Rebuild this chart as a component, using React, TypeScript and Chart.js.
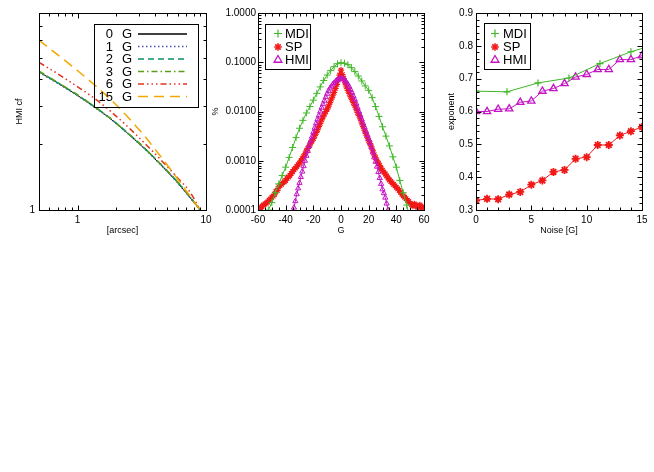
import React, { useEffect, useRef } from "react";
import { Chart, registerables } from "chart.js";

Chart.register(...registerables);

const PAGE_W = 654;
const PAGE_H = 472;
const FONT = "'Liberation Sans', Arial, Helvetica, sans-serif";

// ---------------- Panel 1 : HMI cf vs arcsec ----------------
const cfArcsec = [0.5, 0.7, 1, 1.35, 1.8, 2.4, 3.2, 4.4, 5.9, 7.5, 9];
const cf0G = [4.3, 3.82, 3.35, 2.97, 2.62, 2.27, 1.95, 1.62, 1.35, 1.14, 1.0];
const cf1G = [4.28, 3.81, 3.34, 2.96, 2.62, 2.27, 1.95, 1.62, 1.35, 1.14, 1.0];
const cf2G = [4.31, 3.83, 3.36, 2.98, 2.63, 2.28, 1.96, 1.63, 1.36, 1.15, 1.0];
const cf3G = [4.33, 3.84, 3.37, 2.98, 2.63, 2.28, 1.96, 1.63, 1.36, 1.15, 1.0];
const cf6G = [4.75, 4.21, 3.67, 3.25, 2.84, 2.44, 2.07, 1.71, 1.42, 1.21, 1.0];
const cf15G = [6.0, 5.14, 4.35, 3.75, 3.22, 2.71, 2.24, 1.77, 1.41, 1.16, 1.0];
const cfNoiseLabels = ["0", "1", "2", "3", "6", "15"];
const cfXTicks = [1, 10];
const cfXTickLabels = ["1", "10"];
const cfYTicks = [1];
const cfYTickLabels = ["1"];

// ---------------- Panel 2 : distributions (%) vs G ----------------
const mdiG = [-55, -52.5, -50, -47.5, -45, -42.5, -40, -37.5, -35, -32.5, -30, -27.5, -25, -22.5, -20, -17.5, -15, -12.5, -10, -7.5, -5, -2.5, 0, 2.5, 5, 7.5, 10, 12.5, 15, 17.5, 20, 22.5, 25, 27.5, 30, 32.5, 35, 37.5, 40, 42.5, 45, 47.5, 50];
const mdiPct = [7.08e-5, 1.0e-4, 1.41e-4, 2.24e-4, 3.39e-4, 5.01e-4, 7.41e-4, 1.17e-3, 1.86e-3, 2.95e-3, 4.57e-3, 6.61e-3, 9.33e-3, 0.0126, 0.017, 0.0234, 0.0316, 0.0427, 0.055, 0.0676, 0.0813, 0.0933, 0.0977, 0.0955, 0.0891, 0.0776, 0.0646, 0.0525, 0.0417, 0.0331, 0.0269, 0.0191, 0.0126, 7.94e-3, 4.9e-3, 3.16e-3, 2.0e-3, 1.2e-3, 7.41e-4, 3.98e-4, 2.24e-4, 1.26e-4, 6.31e-5];
const spG = [
  -60, -59, -58, -57, -56, -55, -54, -53, -52, -51, -50, -49, -48, -47, -46, -45, -44, -43, -42, -41,
  -40, -39, -38, -37, -36, -35, -34, -33, -32, -31, -30, -29, -28, -27, -26, -25, -24, -23, -22, -21,
  -20, -19, -18, -17, -16, -15, -14, -13, -12, -11, -10, -9, -8, -7, -6, -5, -4, -3, -2, -1,
  0, 1, 2, 3, 4, 5, 6, 7, 8, 9, 10, 11, 12, 13, 14, 15, 16, 17, 18, 19,
  20, 21, 22, 23, 24, 25, 26, 27, 28, 29, 30, 31, 32, 33, 34, 35, 36, 37, 38, 39,
  40, 41, 42, 43, 44, 45, 46, 47, 48, 49, 50, 51, 52, 53, 54, 55, 56, 57, 58, 59, 60,
];
const spPct = [
  1.12e-4, 1.02e-4, 1.07e-4, 1.2e-4, 1.26e-4, 1.32e-4, 1.38e-4, 1.45e-4, 1.58e-4, 1.66e-4,
  1.82e-4, 1.91e-4, 2.09e-4, 2.4e-4, 2.51e-4, 2.95e-4, 3.16e-4, 3.31e-4, 3.55e-4, 3.72e-4,
  3.98e-4, 4.37e-4, 4.68e-4, 5.01e-4, 5.5e-4, 6.03e-4, 6.61e-4, 7.08e-4, 7.59e-4, 8.32e-4,
  8.91e-4, 1.0e-3, 1.1e-3, 1.23e-3, 1.38e-3, 1.58e-3, 1.78e-3, 2.0e-3, 2.29e-3, 2.51e-3,
  2.82e-3, 3.24e-3, 3.72e-3, 4.27e-3, 5.01e-3, 5.75e-3, 6.76e-3, 7.76e-3, 8.91e-3, 0.01,
  0.0112, 0.0129, 0.0151, 0.0178, 0.0209, 0.0245, 0.0295, 0.0355, 0.0437, 0.055,
  0.0692, 0.0562, 0.0468, 0.038, 0.0316, 0.0269, 0.0234, 0.02, 0.0174, 0.0151,
  0.0132, 0.0112, 9.55e-3, 8.32e-3, 7.08e-3, 5.89e-3, 5.01e-3, 4.17e-3, 3.55e-3, 3.02e-3,
  2.57e-3, 2.24e-3, 1.91e-3, 1.58e-3, 1.32e-3, 1.15e-3, 1.0e-3, 8.91e-4, 7.94e-4, 7.08e-4,
  6.31e-4, 5.89e-4, 5.37e-4, 4.9e-4, 4.47e-4, 4.07e-4, 3.8e-4, 3.55e-4, 3.31e-4, 3.09e-4,
  2.88e-4, 2.69e-4, 2.51e-4, 2.29e-4, 2.09e-4, 1.95e-4, 1.82e-4, 1.7e-4, 1.58e-4, 1.48e-4,
  1.38e-4, 1.29e-4, 1.2e-4, 1.32e-4, 1.26e-4, 1.15e-4, 1.17e-4, 1.26e-4, 1.07e-4, 1.15e-4, 1.12e-4,
];
const hmiG = [
  -36, -35, -34, -33, -32, -31, -30, -29, -28, -27, -26, -25, -24, -23, -22, -21, -20, -19, -18, -17,
  -16, -15, -14, -13, -12, -11, -10, -9, -8, -7, -6, -5, -4, -3, -2, -1,
  0, 1, 2, 3, 4, 5, 6, 7, 8, 9, 10, 11, 12, 13, 14, 15, 16, 17, 18, 19,
  20, 21, 22, 23, 24, 25, 26, 27, 28, 29, 30, 31, 32, 33, 34, 35, 36,
];
const hmiPct = [
  7.08e-5, 8.91e-5, 1.12e-4, 1.51e-4, 2.09e-4, 2.75e-4, 3.55e-4, 4.68e-4, 6.03e-4, 7.76e-4,
  1.0e-3, 1.26e-3, 1.58e-3, 2.0e-3, 2.51e-3, 3.09e-3, 3.8e-3, 4.68e-3, 5.75e-3, 6.92e-3,
  8.32e-3, 0.01, 0.012, 0.0141, 0.0166, 0.0195, 0.0229, 0.0263, 0.0295, 0.0324,
  0.0355, 0.038, 0.0407, 0.0432, 0.0452, 0.0462,
  0.0468, 0.0462, 0.0447, 0.0422, 0.0389, 0.0355, 0.0316, 0.0275, 0.024, 0.0204,
  0.0174, 0.0145, 0.012, 0.01, 8.32e-3, 6.92e-3, 5.75e-3, 4.79e-3, 3.98e-3, 3.31e-3,
  2.75e-3, 2.29e-3, 1.86e-3, 1.48e-3, 1.17e-3, 9.55e-4, 7.59e-4, 5.89e-4, 4.47e-4, 3.39e-4,
  2.63e-4, 2.19e-4, 1.78e-4, 1.35e-4, 1.0e-4, 7.08e-5, 5.01e-5,
];
const distXTicks = [-60, -40, -20, 0, 20, 40, 60];
const distXTickLabels = ["-60", "-40", "-20", "0", "20", "40", "60"];
const distYTicks = [1e-4, 1e-3, 1e-2, 1e-1, 1];
const distYTickLabels = ["0.0001", "0.0010", "0.0100", "0.1000", "1.0000"];

// ---------------- Panel 3 : exponent vs noise ----------------
const mdiNoise = [0, 2.8, 5.6, 8.4, 11.2, 14.0, 16.8];
const mdiExp = [0.662, 0.66, 0.687, 0.702, 0.746, 0.782, 0.81];
const noiseG = [0, 1, 2, 3, 4, 5, 6, 7, 8, 9, 10, 11, 12, 13, 14, 15];
const spExp = [0.329, 0.334, 0.333, 0.347, 0.355, 0.377, 0.39, 0.416, 0.422, 0.456, 0.461, 0.498, 0.498, 0.527, 0.54, 0.553];
const hmiExp = [0.6, 0.6, 0.607, 0.608, 0.628, 0.632, 0.662, 0.67, 0.685, 0.705, 0.713, 0.728, 0.728, 0.758, 0.758, 0.77];
const expXTicks = [0, 5, 10, 15];
const expXTickLabels = ["0", "5", "10", "15"];
const expYTicks = [0.3, 0.4, 0.5, 0.6, 0.7, 0.8, 0.9];
const expYTickLabels = ["0.3", "0.4", "0.5", "0.6", "0.7", "0.8", "0.9"];

const instrumentNames = ["MDI", "SP", "HMI"];

// ---------------- styles ----------------
const GREEN = "#3fb826";
const RED = "#f21818";
const MAGENTA = "#c414c4";
const cfStyles = [
  { color: "#000000", dash: [] as number[], width: 1 },
  { color: "#4a52a8", dash: [1.5, 2.5], width: 1.5 },
  { color: "#0a9068", dash: [6, 4], width: 1.5 },
  { color: "#5a9e1a", dash: [6, 3, 1.5, 3], width: 1.5 },
  { color: "#e2321c", dash: [6, 3, 1.5, 3, 1.5, 3, 1.5, 3], width: 1.5 },
  { color: "#f2a600", dash: [10, 6], width: 1.5 },
];

const xy = (xs: number[], ys: number[]) => xs.map((x, i) => ({ x, y: ys[i] }));

function range(a: number, b: number, step: number) {
  const out: number[] = [];
  for (let v = a; v <= b + 1e-9; v += step) out.push(Math.round(v * 1000) / 1000);
  return out;
}
function logMinors(lo: number, hi: number) {
  const out: number[] = [];
  for (let d = Math.floor(Math.log10(lo)); d <= Math.ceil(Math.log10(hi)); d++) {
    for (let m = 2; m <= 9; m++) {
      const v = m * Math.pow(10, d);
      if (v > lo && v < hi) out.push(v);
    }
  }
  return out;
}

function makeScale(o: {
  axis: "x" | "y";
  type: string;
  min: number;
  max: number;
  ticks: number[];
  labels: string[];
  size: number;
  tickPad: number;
  title: string;
  titlePad: any;
}) {
  return {
    type: o.type,
    min: o.min,
    max: o.max,
    afterFit: (s: any) => {
      if (o.axis === "x") s.height = o.size;
      else s.width = o.size;
    },
    afterBuildTicks: (s: any) => {
      s.ticks = o.ticks.map((v) => ({ value: v }));
    },
    ticks: {
      autoSkip: false,
      maxRotation: 0,
      minRotation: 0,
      padding: o.tickPad,
      color: "#000",
      font: { family: FONT, size: 10 },
      callback: (v: any) => {
        const i = o.ticks.findIndex((t) => Math.abs(t - v) <= Math.abs(t) * 1e-6 + 1e-12);
        return i >= 0 ? o.labels[i] : "";
      },
    },
    grid: { display: false, drawTicks: false },
    border: { display: false },
    title: {
      display: true,
      text: o.title,
      color: "#000",
      font: { family: FONT, size: 9 },
      padding: o.titlePad,
    },
  };
}

type TickSpec = { xMajor: number[]; xMinor: number[]; yMajor: number[]; yMinor: number[] };

function framePlugin(spec: TickSpec, legend: (ctx: CanvasRenderingContext2D) => void) {
  return {
    id: "frameTicks",
    afterDraw(chart: any) {
      const { ctx, chartArea: a } = chart;
      const xs = chart.scales.x;
      const ys = chart.scales.y;
      const L = Math.round(a.left) + 0.5;
      const R = Math.round(a.right) + 0.5;
      const T = Math.round(a.top) + 0.5;
      const B = Math.round(a.bottom) + 0.5;
      ctx.save();
      ctx.strokeStyle = "#000";
      ctx.lineWidth = 1;
      ctx.setLineDash([]);
      ctx.strokeRect(L, T, R - L, B - T);
      ctx.beginPath();
      const xt = (v: number, len: number) => {
        const p = Math.round(xs.getPixelForValue(v)) + 0.5;
        if (p <= L + 0.6 || p >= R - 0.6) return;
        ctx.moveTo(p, B);
        ctx.lineTo(p, B - len);
        ctx.moveTo(p, T);
        ctx.lineTo(p, T + len);
      };
      const yt = (v: number, len: number) => {
        const p = Math.round(ys.getPixelForValue(v)) + 0.5;
        if (p <= T + 0.6 || p >= B - 0.6) return;
        ctx.moveTo(L, p);
        ctx.lineTo(L + len, p);
        ctx.moveTo(R, p);
        ctx.lineTo(R - len, p);
      };
      spec.xMajor.forEach((v) => xt(v, 5));
      spec.xMinor.forEach((v) => xt(v, 3));
      spec.yMajor.forEach((v) => yt(v, 5));
      spec.yMinor.forEach((v) => yt(v, 3));
      ctx.stroke();
      legend(ctx);
      ctx.restore();
    },
  };
}

function plus(ctx: CanvasRenderingContext2D, x: number, y: number, r: number) {
  ctx.beginPath();
  ctx.moveTo(x - r, y);
  ctx.lineTo(x + r, y);
  ctx.moveTo(x, y - r);
  ctx.lineTo(x, y + r);
  ctx.stroke();
}
function star(ctx: CanvasRenderingContext2D, x: number, y: number, r: number) {
  plus(ctx, x, y, r);
  const d = r * 0.7071;
  ctx.beginPath();
  ctx.moveTo(x - d, y - d);
  ctx.lineTo(x + d, y + d);
  ctx.moveTo(x - d, y + d);
  ctx.lineTo(x + d, y - d);
  ctx.stroke();
}
function tri(ctx: CanvasRenderingContext2D, x: number, y: number, r: number) {
  ctx.beginPath();
  ctx.moveTo(x, y - r);
  ctx.lineTo(x + r * 0.866, y + r * 0.5);
  ctx.lineTo(x - r * 0.866, y + r * 0.5);
  ctx.closePath();
  ctx.stroke();
}

function instrumentLegend(bx: number, by: number, bw: number, bh: number, sx: number, tx: number, rows: number[]) {
  return (ctx: CanvasRenderingContext2D) => {
    ctx.strokeStyle = "#000";
    ctx.lineWidth = 1;
    ctx.strokeRect(bx + 0.5, by + 0.5, bw, bh);
    const colors = [GREEN, RED, MAGENTA];
    const drawers = [plus, star, tri];
    const sizes = [4, 3.8, 4.5];
    const widths = [1.2, 1.6, 1.3];
    rows.forEach((y, i) => {
      ctx.strokeStyle = colors[i];
      ctx.lineWidth = widths[i];
      drawers[i](ctx, sx, y, sizes[i]);
      ctx.fillStyle = "#000";
      ctx.font = `13px ${FONT}`;
      ctx.textAlign = "left";
      ctx.textBaseline = "middle";
      ctx.fillText(instrumentNames[i], tx, y + 0.5);
    });
  };
}

function cfLegend(ctx: CanvasRenderingContext2D) {
  ctx.strokeStyle = "#000";
  ctx.lineWidth = 1;
  ctx.strokeRect(94.5, 24.5, 104, 83);
  const rows = [34, 46.5, 59, 71.5, 84, 96.5];
  rows.forEach((y, i) => {
    ctx.fillStyle = "#000";
    ctx.font = `13px ${FONT}`;
    ctx.textBaseline = "middle";
    ctx.textAlign = "right";
    ctx.fillText(cfNoiseLabels[i], 113, y + 0.5);
    ctx.textAlign = "left";
    ctx.fillText("G", 122, y + 0.5);
    ctx.strokeStyle = cfStyles[i].color;
    ctx.lineWidth = 1.5;
    ctx.setLineDash(cfStyles[i].dash);
    ctx.beginPath();
    ctx.moveTo(138, y);
    ctx.lineTo(187, y);
    ctx.stroke();
    ctx.setLineDash([]);
  });
}

const BASE_OPTS = {
  responsive: false,
  maintainAspectRatio: false,
  animation: false,
  devicePixelRatio: 1,
  events: [],
  plugins: { legend: { display: false }, tooltip: { enabled: false } },
};

function padFor(left: number, right: number, yw: number, xh: number) {
  const top = 13;
  const bottom = 210;
  return { left: left - yw, right: PAGE_W - right, top, bottom: PAGE_H - bottom - xh };
}

export default function App() {
  const c1 = useRef<HTMLCanvasElement>(null);
  const c2 = useRef<HTMLCanvasElement>(null);
  const c3 = useRef<HTMLCanvasElement>(null);

  useEffect(() => {
    const charts: Chart[] = [];

    // Panel 1
    const cfSeries = [cf0G, cf1G, cf2G, cf3G, cf6G, cf15G];
    charts.push(
      new Chart(c1.current!, {
        type: "line",
        data: {
          datasets: cfSeries.map((ys, i) => ({
            label: cfNoiseLabels[i] + " G",
            data: xy(cfArcsec, ys),
            borderColor: cfStyles[i].color,
            borderDash: cfStyles[i].dash,
            borderWidth: cfStyles[i].width,
            pointRadius: 0,
            fill: false,
            cubicInterpolationMode: "monotone",
            order: cfSeries.length - i,
          })),
        },
        options: {
          ...BASE_OPTS,
          layout: { padding: padFor(39, 206, 30, 30) },
          scales: {
            x: makeScale({ axis: "x", type: "logarithmic", min: 0.5, max: 10, ticks: cfXTicks, labels: cfXTickLabels, size: 30, tickPad: 4, title: "[arcsec]", titlePad: { top: 0, bottom: 3.6 } }),
            y: makeScale({ axis: "y", type: "logarithmic", min: 1, max: 8, ticks: cfYTicks, labels: cfYTickLabels, size: 30, tickPad: 4, title: "HMI cf", titlePad: { top: 5.6, bottom: 0 } }),
          },
        } as any,
        plugins: [
          framePlugin(
            {
              xMajor: [1, 10],
              xMinor: [0.6, 0.7, 0.8, 0.9, 2, 3, 4, 5, 6, 7, 8, 9],
              yMajor: [1],
              yMinor: [2, 3, 4, 5, 6, 7],
            },
            cfLegend
          ),
        ],
      } as any)
    );

    // Panel 2
    charts.push(
      new Chart(c2.current!, {
        type: "line",
        data: {
          datasets: [
            { label: "MDI", data: xy(mdiG, mdiPct), borderColor: GREEN, pointBorderColor: GREEN, backgroundColor: "transparent", borderWidth: 1, pointStyle: "cross", pointRadius: 3.5, pointBorderWidth: 1, clip: 0, order: 1 },
            { label: "SP", data: xy(spG, spPct), borderColor: RED, pointBorderColor: RED, backgroundColor: "transparent", borderWidth: 1, pointStyle: "star", pointRadius: 3.2, pointBorderWidth: 1.2, clip: 0, order: 3 },
            { label: "HMI", data: xy(hmiG, hmiPct), borderColor: MAGENTA, pointBorderColor: MAGENTA, backgroundColor: "transparent", pointBackgroundColor: "transparent", borderWidth: 1, pointStyle: "triangle", pointRadius: 3, pointBorderWidth: 1, clip: 0, order: 2 },
          ],
        },
        options: {
          ...BASE_OPTS,
          layout: { padding: padFor(258, 424, 48, 30) },
          scales: {
            x: makeScale({ axis: "x", type: "linear", min: -60, max: 60, ticks: distXTicks, labels: distXTickLabels, size: 30, tickPad: 4, title: "G", titlePad: { top: 0, bottom: 3.6 } }),
            y: makeScale({ axis: "y", type: "logarithmic", min: 1e-4, max: 1, ticks: distYTicks, labels: distYTickLabels, size: 48, tickPad: 2, title: "%", titlePad: { top: 0, bottom: 0 } }),
          },
        } as any,
        plugins: [
          framePlugin(
            {
              xMajor: distXTicks,
              xMinor: range(-55, 55, 5).filter((v) => v % 20 !== 0),
              yMajor: distYTicks,
              yMinor: logMinors(1e-4, 1),
            },
            instrumentLegend(265, 24, 45, 45, 278, 285, [33.5, 47, 60])
          ),
        ],
      } as any)
    );

    // Panel 3
    charts.push(
      new Chart(c3.current!, {
        type: "line",
        data: {
          datasets: [
            { label: "MDI", data: xy(mdiNoise, mdiExp), borderColor: GREEN, pointBorderColor: GREEN, backgroundColor: "transparent", borderWidth: 1, pointStyle: "cross", pointRadius: 3.5, pointBorderWidth: 1.2, clip: 0 },
            { label: "SP", data: xy(noiseG, spExp), borderColor: RED, pointBorderColor: RED, backgroundColor: "transparent", borderWidth: 1, pointStyle: "star", pointRadius: 4, pointBorderWidth: 1.8, clip: 0 },
            { label: "HMI", data: xy(noiseG, hmiExp), borderColor: MAGENTA, pointBorderColor: MAGENTA, backgroundColor: "transparent", pointBackgroundColor: "transparent", borderWidth: 1, pointStyle: "triangle", pointRadius: 4.2, pointBorderWidth: 1.3, clip: 0 },
          ],
        },
        options: {
          ...BASE_OPTS,
          layout: { padding: padFor(476, 642, 30, 30) },
          scales: {
            x: makeScale({ axis: "x", type: "linear", min: 0, max: 15, ticks: expXTicks, labels: expXTickLabels, size: 30, tickPad: 4, title: "Noise [G]", titlePad: { top: 0, bottom: 3.6 } }),
            y: makeScale({ axis: "y", type: "linear", min: 0.3, max: 0.9, ticks: expYTicks, labels: expYTickLabels, size: 30, tickPad: 3, title: "exponent", titlePad: { top: 0.3, bottom: 0 } }),
          },
        } as any,
        plugins: [
          framePlugin(
            {
              xMajor: expXTicks,
              xMinor: range(1, 14, 1).filter((v) => v % 5 !== 0),
              yMajor: expYTicks,
              yMinor: range(0.32, 0.88, 0.02).filter((v) => Math.abs(v * 10 - Math.round(v * 10)) > 1e-6),
            },
            instrumentLegend(484, 23, 46, 46, 495, 503, [33.5, 47, 60])
          ),
        ],
      } as any)
    );

    return () => charts.forEach((c) => c.destroy());
  }, []);

  const cs: React.CSSProperties = { position: "absolute", left: 0, top: 0, width: PAGE_W, height: PAGE_H };
  return (
    <div style={{ position: "absolute", left: 0, top: 0, width: PAGE_W, height: PAGE_H, background: "#fff" }}>
      <canvas ref={c1} width={PAGE_W} height={PAGE_H} style={cs} />
      <canvas ref={c2} width={PAGE_W} height={PAGE_H} style={cs} />
      <canvas ref={c3} width={PAGE_W} height={PAGE_H} style={cs} />
    </div>
  );
}
